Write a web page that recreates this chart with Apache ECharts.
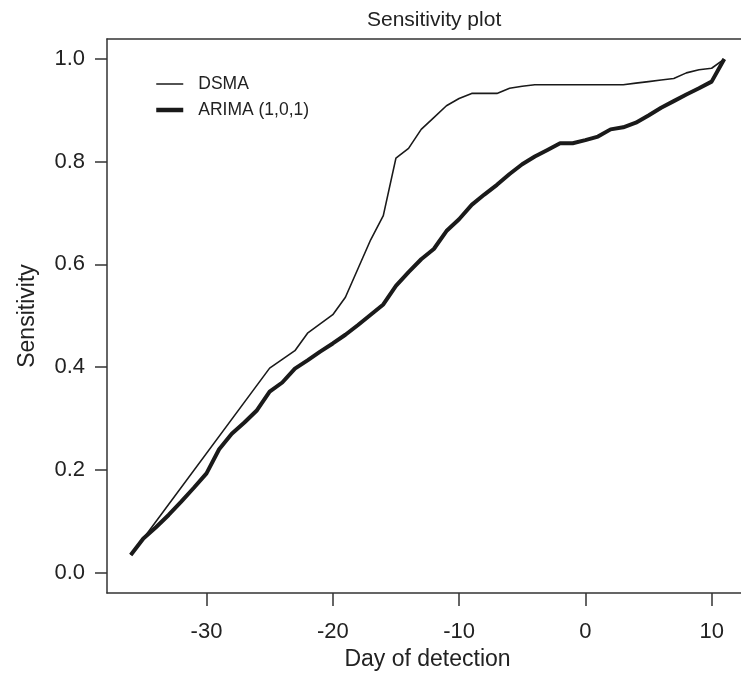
<!DOCTYPE html>
<html>
<head>
<meta charset="utf-8">
<script src="https://cdn.jsdelivr.net/npm/echarts@6/dist/echarts.min.js"></script>
<style>
html,body{margin:0;padding:0;background:#fff;}
#c{width:741px;height:675px;}
</style>
</head>
<body>
<div id="c"></div>
<script>
var xTicks = [-30, -20, -10, 0, 10];
var yTicks = [0.0, 0.2, 0.4, 0.6, 0.8, 1.0];

var dsmaDays = [-36, -35, -25, -24, -23, -22, -21, -20, -19, -18, -17, -16, -15, -14, -13, -12, -11, -10, -9, -8, -7, -6, -5, -4, -3, -2, -1, 0, 1, 2, 3, 4, 5, 6, 7, 8, 9, 10, 11];
var dsmaValues = [0.034, 0.066, 0.398, 0.415, 0.432, 0.466, 0.484, 0.502, 0.536, 0.592, 0.648, 0.695, 0.807, 0.826, 0.863, 0.886, 0.909, 0.923, 0.933, 0.933, 0.933, 0.943, 0.947, 0.950, 0.950, 0.950, 0.950, 0.950, 0.950, 0.950, 0.950, 0.953, 0.956, 0.959, 0.962, 0.973, 0.979, 0.982, 1.0];

var arimaDays = [-36, -35, -34, -33, -32, -31, -30, -29, -28, -27, -26, -25, -24, -23, -22, -21, -20, -19, -18, -17, -16, -15, -14, -13, -12, -11, -10, -9, -8, -7, -6, -5, -4, -3, -2, -1, 0, 1, 2, 3, 4, 5, 6, 7, 8, 9, 10, 11];
var arimaValues = [0.034, 0.066, 0.088, 0.112, 0.138, 0.165, 0.193, 0.240, 0.270, 0.292, 0.316, 0.352, 0.370, 0.397, 0.413, 0.430, 0.446, 0.463, 0.482, 0.502, 0.522, 0.558, 0.585, 0.610, 0.630, 0.665, 0.688, 0.716, 0.736, 0.755, 0.776, 0.795, 0.810, 0.823, 0.836, 0.836, 0.842, 0.849, 0.863, 0.867, 0.876, 0.890, 0.905, 0.918, 0.931, 0.943, 0.956, 1.0];

function pairs(xs, ys) { return xs.map(function (x, i) { return [x, ys[i]]; }); }

var FONT = 'Liberation Sans, Arial, Helvetica, sans-serif';
var TXT = '#222';
var AX = { color: '#333', width: 1.5 };
var chart = echarts.init(document.getElementById('c'), null, { renderer: 'canvas' });
chart.setOption({
  animation: false,
  backgroundColor: '#fff',
  title: {
    text: 'Sensitivity plot',
    left: 362, top: 5,
    textStyle: { fontFamily: FONT, fontSize: 21, fontWeight: 'normal', color: TXT }
  },
  legend: {
    orient: 'vertical',
    left: 154, top: 75, padding: 0,
    itemWidth: 27, itemHeight: 14, itemGap: 8,
    itemStyle: { color: 'transparent', borderWidth: 0, opacity: 0 },
    textStyle: { fontFamily: FONT, fontSize: 17.5, lineHeight: 18, color: TXT, padding: [0, 0, 0, 10] },
    data: [
      { name: 'DSMA', lineStyle: { width: 1.5, color: '#1a1a1a' } },
      { name: 'ARIMA (1,0,1)', lineStyle: { width: 4.5, color: '#1a1a1a' } }
    ]
  },
  grid: {
    left: 107, top: 39, width: 641, bottom: 82,
    outerBoundsMode: 'none',
    containLabel: false,
    show: false
  },
  xAxis: [{
    type: 'value',
    min: -37.88, max: 12.88,
    interval: 10,
    name: 'Day of detection',
    nameLocation: 'middle', nameGap: 55,
    nameTextStyle: { fontFamily: FONT, fontSize: 23, color: TXT },
    axisLine: { show: true, onZero: false, lineStyle: AX },
    axisTick: { show: true, length: 13, lineStyle: AX, customValues: xTicks },
    axisLabel: { margin: 28, fontFamily: FONT, fontSize: 22, color: TXT, customValues: xTicks, showMinLabel: true, showMaxLabel: true },
    splitLine: { show: false }
  }, {
    type: 'value', position: 'top',
    min: -37.88, max: 12.88,
    axisLine: { show: true, onZero: false, lineStyle: AX },
    axisTick: { show: false }, axisLabel: { show: false }, splitLine: { show: false }
  }],
  yAxis: {
    type: 'value',
    min: -0.04, max: 1.039,
    name: 'Sensitivity',
    nameLocation: 'middle', nameGap: 68,
    nameTextStyle: { fontFamily: FONT, fontSize: 23, color: TXT },
    axisLine: { show: true, onZero: false, lineStyle: AX },
    axisTick: { show: true, length: 12, lineStyle: AX, customValues: yTicks },
    axisLabel: { margin: 22, fontFamily: FONT, fontSize: 22, color: TXT, customValues: yTicks,
      formatter: function (v) { return v.toFixed(1); } },
    splitLine: { show: false }
  },
  series: [
    {
      name: 'DSMA', type: 'line', data: pairs(dsmaDays, dsmaValues),
      showSymbol: false, symbol: 'none',
      lineStyle: { color: '#1a1a1a', width: 1.6 },
      itemStyle: { color: '#1a1a1a' }
    },
    {
      name: 'ARIMA (1,0,1)', type: 'line', data: pairs(arimaDays, arimaValues),
      showSymbol: false, symbol: 'none',
      lineStyle: { color: '#1a1a1a', width: 4 },
      itemStyle: { color: '#1a1a1a' }
    }
  ]
});
</script>
</body>
</html>
